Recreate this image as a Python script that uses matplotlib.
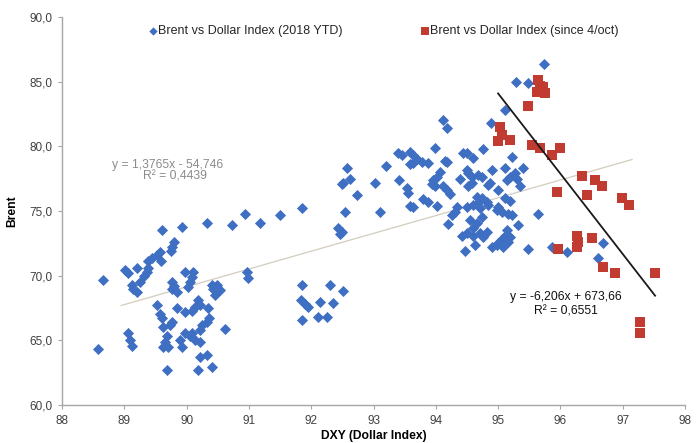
import matplotlib
matplotlib.use("Agg")
import matplotlib.pyplot as plt
import numpy as np
from matplotlib.ticker import FuncFormatter

plt.rcParams['font.family'] = ['Liberation Sans', 'DejaVu Sans']

# Brent vs Dollar Index, 2018 year to date
dxy_ytd = [
    88.58, 88.66, 89.01, 89.06, 89.20, 89.12, 89.14, 89.20, 89.25, 89.32,
    89.36, 89.38, 89.38, 89.44, 89.52, 89.57, 89.59, 89.61, 89.75, 89.77,
    89.80, 89.93, 90.33, 90.73, 90.94, 89.97, 90.10, 90.09, 90.05, 90.02,
    89.77, 89.80, 89.85, 89.77, 90.41, 90.49, 90.54, 90.46, 90.42, 90.97,
    90.99, 89.52, 89.57, 89.85, 89.97, 90.18, 90.13, 90.09, 90.21, 90.34,
    90.36, 90.33, 89.61, 89.62, 89.73, 89.77, 90.62, 90.25, 90.21, 89.97,
    90.05, 90.13, 90.21, 90.09, 89.89, 89.93, 89.69, 89.65, 89.62, 89.70,
    89.06, 89.09, 89.12, 90.21, 90.33, 89.69, 90.18, 90.41, 91.18, 91.50,
    91.85, 91.85, 92.30, 92.51, 91.84, 91.90, 91.95, 92.14, 92.35, 91.85,
    92.11, 92.25, 94.12, 94.18, 94.89, 93.99, 94.76, 94.44, 94.50, 94.60,
    93.39, 93.46, 93.59, 93.63, 93.70, 93.78, 94.15, 94.18, 93.87, 93.20,
    92.57, 93.59, 93.63, 94.50, 94.52, 94.58, 94.90, 94.07, 94.02, 93.95,
    92.51, 92.62, 92.49, 93.02, 93.41, 94.39, 94.68, 94.74, 94.87, 93.94,
    93.99, 94.12, 94.18, 94.23, 93.54, 93.55, 92.73, 94.52, 94.58, 93.79,
    93.87, 94.02, 94.66, 94.74, 94.82, 94.98, 92.54, 93.10, 93.59, 93.63,
    94.34, 94.31, 94.26, 94.50, 94.60, 94.71, 94.20, 92.43, 92.49, 92.46,
    94.42, 94.50, 94.60, 94.71, 94.76, 94.82, 94.63, 94.47, 94.90, 94.98,
    95.11, 95.40, 95.27, 95.19, 95.14, 95.30, 94.84, 95.00, 95.35, 94.68,
    94.84, 95.11, 95.19, 95.00, 95.06, 95.16, 95.22, 94.55, 94.66, 94.74,
    95.32, 94.60, 95.14, 95.11, 95.06, 95.00, 95.19, 95.16, 95.08, 95.48,
    95.86, 96.11, 95.22, 95.11, 95.29, 95.48, 95.74, 95.64, 96.68, 96.60,
]
brent_ytd = [
    64.3, 69.7, 70.4, 70.2, 70.6, 69.3, 69.0, 68.7, 69.5, 70.0,
    70.3, 70.6, 71.1, 71.4, 71.6, 71.8, 71.1, 73.5, 71.9, 72.2,
    72.6, 73.8, 74.1, 73.9, 74.8, 70.3, 70.3, 69.9, 69.5, 69.1,
    69.5, 69.2, 68.7, 69.0, 69.3, 69.3, 68.9, 68.5, 69.0, 70.3,
    69.8, 67.7, 67.0, 67.5, 67.2, 68.1, 67.6, 67.3, 67.7, 67.5,
    66.7, 66.4, 66.7, 66.0, 66.2, 66.4, 65.9, 66.2, 65.8, 65.6,
    65.3, 65.0, 64.9, 65.6, 65.0, 64.5, 65.3, 64.9, 64.5, 64.5,
    65.6, 65.0, 64.6, 63.7, 63.9, 62.7, 62.7, 62.9, 74.1, 74.7,
    75.2, 69.3, 69.3, 68.8, 68.1, 67.8, 67.6, 68.0, 67.9, 66.6,
    66.8, 66.8, 82.0, 81.4, 81.8, 79.9, 79.8, 79.5, 79.5, 79.1,
    79.5, 79.3, 79.6, 79.3, 79.0, 78.8, 78.9, 78.8, 78.7, 78.5,
    78.3, 78.6, 78.7, 78.2, 77.9, 77.6, 78.2, 78.0, 77.6, 77.4,
    77.2, 77.5, 77.1, 77.2, 77.4, 77.5, 77.8, 77.6, 77.2, 77.1,
    76.9, 76.9, 76.6, 76.3, 76.8, 76.4, 76.2, 76.9, 77.2, 75.9,
    75.7, 75.4, 76.1, 76.0, 75.7, 75.1, 74.9, 74.9, 75.4, 75.3,
    75.3, 74.9, 74.7, 75.3, 75.5, 75.2, 74.0, 73.7, 73.4, 73.2,
    73.1, 73.3, 73.7, 73.3, 73.0, 73.4, 72.4, 71.9, 72.2, 72.4,
    78.3, 78.3, 77.9, 77.6, 77.4, 77.5, 77.0, 76.6, 76.9, 75.6,
    75.5, 76.0, 75.8, 75.3, 74.9, 74.8, 74.7, 74.3, 74.1, 74.5,
    73.9, 73.1, 73.5, 73.1, 72.8, 72.5, 73.0, 72.6, 72.2, 72.1,
    72.2, 71.8, 79.2, 82.8, 85.0, 84.9, 86.4, 74.8, 72.5, 71.4,
]

# Brent vs Dollar Index since 4 October
dxy_oct = [
    95.64, 95.67, 95.62, 95.75, 95.72, 95.48, 95.03, 95.06, 95.00, 95.19,
    95.54, 95.67, 95.86, 95.99, 96.35, 96.55, 96.67, 95.94, 96.43, 96.99,
    97.10, 96.27, 96.28, 96.27, 96.51, 95.96, 96.68, 96.88, 97.52, 97.28,
    97.28,
]
brent_oct = [
    85.1, 84.7, 84.2, 84.1, 84.6, 83.1, 81.5, 80.9, 80.4, 80.5,
    80.1, 79.9, 79.3, 79.9, 77.7, 77.4, 76.9, 76.5, 76.2, 76.0,
    75.5, 73.1, 72.6, 72.2, 72.9, 72.1, 70.7, 70.2, 70.2, 66.4,
    65.6,
]

# Linear trend lines (slope, intercept) and their R^2
ytd_fit = (1.3765, -54.746, 0.4439)
oct_fit = (-6.206, 673.66, 0.6551)
ytd_fit_range = (88.95, 97.15)
oct_fit_range = (min(dxy_oct), max(dxy_oct))

x_ticks = list(range(88, 99))
y_ticks = [60, 65, 70, 75, 80, 85, 90]

blue = '#3F6FC2'
red = '#C23B30'

fig = plt.figure(figsize=(6.99, 4.43), dpi=100)
ax = fig.add_axes([62 / 699, 38 / 443, 623 / 699, 388 / 443])

ax.scatter(dxy_ytd, brent_ytd, marker='D', s=32, color=blue, linewidths=0,
           label='Brent vs Dollar Index (2018 YTD)', zorder=3)
ax.scatter(dxy_oct, brent_oct, marker='s', s=58, color=red, linewidths=0,
           label='Brent vs Dollar Index (since 4/oct)', zorder=4)

xs = np.array(ytd_fit_range)
ax.plot(xs, ytd_fit[0] * xs + ytd_fit[1], color='#d3ccbf', lw=0.9, zorder=2)
xs = np.array(oct_fit_range)
ax.plot(xs, oct_fit[0] * xs + oct_fit[1], color='#1a1a1a', lw=1.3, zorder=5)


def comma(v, decimals):
    return f"{v:.{decimals}f}".replace('.', ',')


ax.text(89.7, 78.55, f"y = {comma(ytd_fit[0], 4)}x - {comma(-ytd_fit[1], 3)}",
        color='#8c8c8c', fontsize=8.7, ha='center', va='center')
ax.text(89.82, 77.7, f"R² = {comma(ytd_fit[2], 4)}",
        color='#8c8c8c', fontsize=8.7, ha='center', va='center')
ax.text(96.09, 68.35, f"y = {comma(oct_fit[0], 3)}x + {comma(oct_fit[1], 2)}",
        color='#111111', fontsize=8.7, ha='center', va='center')
ax.text(96.09, 67.25, f"R² = {comma(oct_fit[2], 4)}",
        color='#111111', fontsize=8.7, ha='center', va='center')

ax.set_xlim(88, 98)
ax.set_ylim(60, 90)
ax.set_xticks(x_ticks)
ax.set_yticks(y_ticks)
ax.yaxis.set_major_formatter(FuncFormatter(lambda v, p: comma(v, 1)))
ax.xaxis.set_major_formatter(FuncFormatter(lambda v, p: f"{int(v)}"))

for side in ('top', 'right'):
    ax.spines[side].set_visible(False)
for side in ('left', 'bottom'):
    ax.spines[side].set_color('#a6a6a6')
    ax.spines[side].set_linewidth(1.0)
ax.tick_params(axis='both', direction='out', length=3, width=0.8,
               color='#a6a6a6', labelsize=8.5, labelcolor='#404040')
ax.tick_params(axis='x', pad=4)

ax.set_xlabel('DXY (Dollar Index)', fontsize=8.7, fontweight='bold', labelpad=2)
ax.set_ylabel('Brent', fontsize=8.7, fontweight='bold', labelpad=8)

leg = ax.legend(loc='center', bbox_to_anchor=(0.516, 0.964), ncol=2,
                frameon=False, fontsize=9, columnspacing=6.2,
                handletextpad=0.0, handlelength=0.8, markerscale=0.75)
for t in leg.get_texts():
    t.set_color('#262626')

fig.savefig('out.png', dpi=100, facecolor='white')
